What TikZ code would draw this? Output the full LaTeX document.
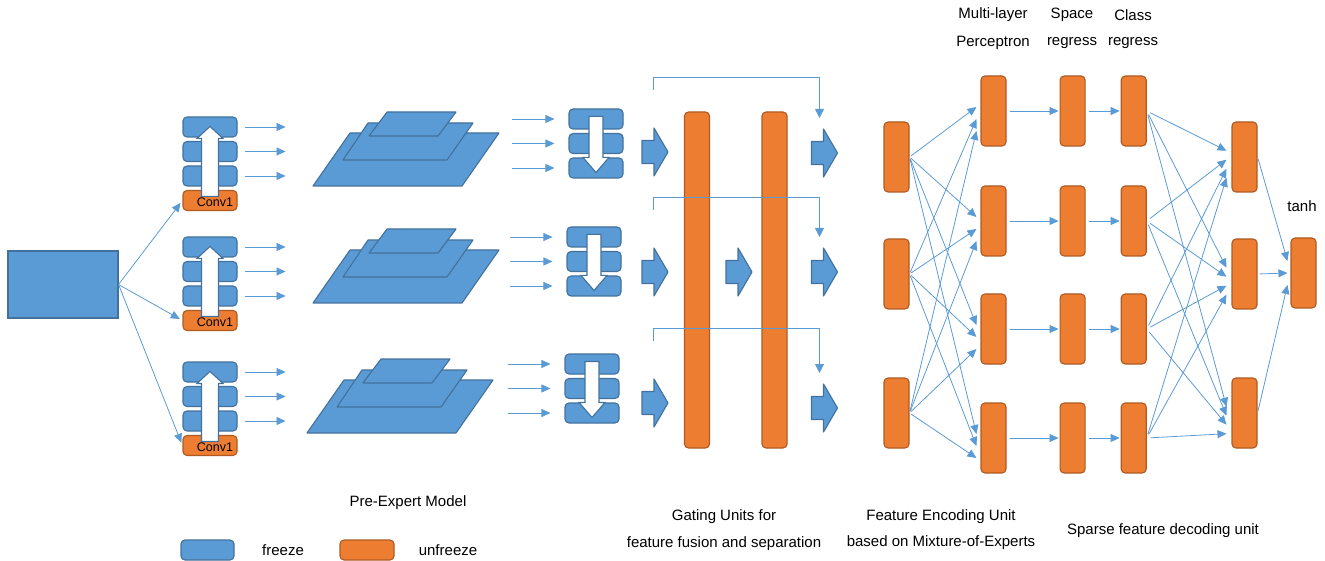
\documentclass[tikz,border=0pt]{standalone}
\usepackage{fontspec}
\setmainfont{Liberation Sans}
\usetikzlibrary{arrows.meta, calc, positioning}

\definecolor{offblue}{RGB}{91,155,213}
\definecolor{offblueline}{RGB}{65,113,156}
\definecolor{offorange}{RGB}{237,125,49}
\definecolor{offorangeline}{RGB}{174,90,33}

\tikzset{
    bluebox/.style={draw=offblueline, fill=offblue, line width=1.1pt, rounded corners=4pt,
        minimum width=54pt, minimum height=20pt, inner sep=0pt},
    orangebox/.style={draw=offorangeline, fill=offorange, line width=1.1pt, rounded corners=4pt,
        minimum width=25pt, minimum height=70pt, inner sep=0pt},
    sheet/.style={draw=offblueline, fill=offblue, line width=1.1pt, line join=round},
    hollow/.style={draw=offblueline, fill=white, line width=1.1pt},
    link/.style={draw=offblue, line width=0.8pt, -{Triangle[length=9pt,width=8pt]}},
    txt/.style={font=\fontsize{15}{18}\selectfont, inner sep=0pt},
    convtxt/.style={font=\fontsize{12.5}{14}\selectfont, inner sep=0pt},
    uparrow/.pic={\draw[hollow] (0,10) -- (13,22) -- (8.5,22) -- (8.5,80) -- (-8.5,80) -- (-8.5,22) -- (-13,22) -- cycle;},
    downarrow/.pic={\draw[hollow] (-7,8) -- (7,8) -- (7,49) -- (13,49) -- (0,64) -- (-13,49) -- (-7,49) -- cycle;},
    fatarrow/.pic={\draw[sheet] (-13,-11.5) -- (-1,-11.5) -- (-1,-24) -- (13,0) -- (-1,24) -- (-1,11.5) -- (-13,11.5) -- cycle;},
    pyramid/.pic={
        \draw[sheet] (0,0) -- (149,0) -- (186,-53) -- (37,-53) -- cycle;
        \draw[sheet] (30,-26) -- (134,-26) -- (160,-63) -- (55,-63) -- cycle;
        \draw[sheet] (56,-50) -- (125,-50) -- (143,-74) -- (74,-74) -- cycle;
    }
}

\begin{document}
\begin{tikzpicture}[x=1pt, y=-1pt]
    \useasboundingbox (0,0) rectangle (1325,561);

    \node[bluebox, sharp corners, minimum width=110pt, minimum height=67pt] (img) at (63,284.5) {};

    \foreach \k/\t in {1/117, 2/237, 3/362} {
        \node[bluebox] (enc\k1) at (210, \t+10) {};
        \node[bluebox] (enc\k2) at (210, \t+34.5) {};
        \node[bluebox] (enc\k3) at (210, \t+59) {};
        \node[bluebox, fill=offorange, draw=offorangeline] (conv\k) at (210, \t+83.5) {};
        \pic at (enc\k1.north) {uparrow};
        \node[convtxt] (ct\k) at ($(conv\k)+(5,2)$) {Conv1};
        \draw[link, shorten >=3pt] (img.east) -- (conv\k.west);
        \foreach \j in {1,2,3} {
            \draw[link] ($(enc\k\j.east)+(7,0)$) -- ++(41,0);
        }
    }

    \pic at (313,186) {pyramid};
    \pic at (313,303) {pyramid};
    \pic at (307,433) {pyramid};

    \foreach \k/\x/\t in {1/596/109, 2/594/227, 3/592/354} {
        \node[bluebox] (dec\k1) at (\x, \t+10) {};
        \node[bluebox] (dec\k2) at (\x, \t+34.5) {};
        \node[bluebox] (dec\k3) at (\x, \t+59) {};
        \pic at (dec\k1.north) {downarrow};
        \foreach \j in {1,2,3} {
            \draw[link] ($(dec\k\j.west)+(-56,0)$) -- ($(dec\k\j.west)+(-14,0)$);
        }
    }

    \node[orangebox, minimum height=336pt] (bar1) at (697,280) {};
    \node[orangebox, minimum height=336pt] (bar2) at (774.5,280) {};
    \coordinate (gm) at (739,272);
    \pic at (gm) {fatarrow};
    \foreach \k/\ya/\yb in {1/152/153, 2/272/272, 3/403/408} {
        \coordinate (ga\k) at (655,\ya);
        \coordinate (gb\k) at (824.5,\yb);
        \pic at (ga\k) {fatarrow};
        \pic at (gb\k) {fatarrow};
        \draw[link, -{Triangle[length=9pt,width=9pt]}] ($(ga\k)+(-2,-62)$) -- ++(0,-13) -| ($(gb\k)+(-5,-35)$);
    }

    \foreach \i/\y in {1/157, 2/274, 3/413} {
        \node[orangebox] (m\i) at (896.5,\y) {};
        \node[orangebox] (dd\i) at (1244.5,\y) {};
    }
    \node[orangebox] (th) at (1303.5,273) {};

    \foreach \j/\y in {1/111, 2/221, 3/329, 4/438} {
        \node[orangebox] (ex\j) at (993.5,\y) {};
        \node[orangebox, right=53pt of ex\j] (sp\j) {};
        \node[orangebox, right=35pt of sp\j] (cl\j) {};
        \draw[link, shorten <=3pt, shorten >=1pt] (ex\j) -- (sp\j);
        \draw[link, shorten <=3pt, shorten >=1pt] (sp\j) -- (cl\j);
    }

    \foreach \i in {1,2,3} {
        \foreach \j in {1,...,4} {
            \draw[link, shorten <=2pt] (m\i.east) -- ($(ex\j.west)+(-4,{(\i-1)*12-4})$);
            \draw[link, shorten <=4pt] (cl\j.east) -- ($(dd\i.west)+(-5,{(\j-1.7)*9})$);
        }
        \draw[link, shorten <=2pt] (dd\i.east) -- ($(th.west)+(-3,{(\i-2)*12})$);
    }

    \node[txt] (mlp1) at (993,15) {Multi-layer};
    \node[txt] (mlp2) at (993,43) {Perceptron};
    \node[txt] (spr1) at (1072,15) {Space};
    \node[txt] (spr2) at (1072,43) {regress};
    \node[txt] (clr1) at (1133,15) {Class};
    \node[txt] (clr2) at (1133,43) {regress};
    \node[txt] (tanh) at (1302,206) {tanh};

    \node[txt] (pre) at (408,503) {Pre-Expert Model};
    \node[txt] (gate1) at (724,517) {Gating Units for};
    \node[txt] (gate2) at (724,544) {feature fusion and separation};
    \node[txt] (enc1) at (941,517) {Feature Encoding Unit};
    \node[txt] (enc2) at (941,543) {based on Mixture-of-Experts};
    \node[txt] (sparse) at (1163,531) {Sparse feature decoding unit};

    \node[bluebox, minimum width=53pt] (keyb) at (207.5,550) {};
    \node[txt] (keybt) at (283,550) {freeze};
    \node[bluebox, fill=offorange, draw=offorangeline] (keyo) at (367,550) {};
    \node[txt] (keyot) at (448,550) {unfreeze};
\end{tikzpicture}
\end{document}
